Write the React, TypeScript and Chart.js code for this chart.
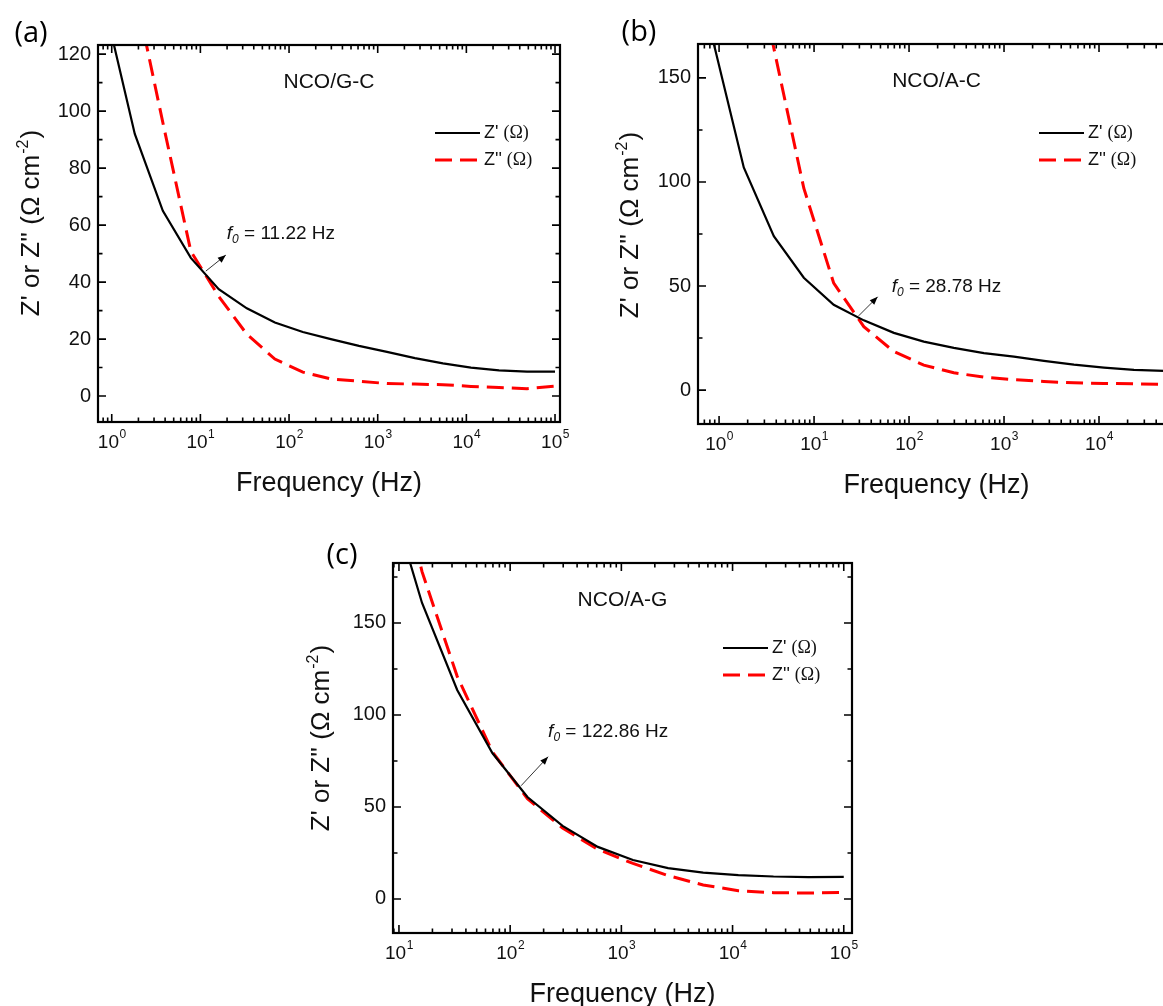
import React, { useEffect, useRef } from "react";
import { Chart, registerables } from "chart.js";

Chart.register(...registerables);

// ---------------- data ----------------
const FREQ_HZ = [0.879, 1.82, 3.77, 7.8, 16.1, 33.4, 69.2, 143, 296, 614, 1271, 2630, 5445, 11272, 23335, 48306, 100000];

const GC_ZREAL = [134, 92, 65, 48.5, 37.5, 30.8, 25.8, 22.5, 20.0, 17.6, 15.5, 13.3, 11.5, 10.0, 9.0, 8.6, 8.6];
const GC_ZIMAG = [240, 142.6, 96, 50.8, 35, 21.7, 13, 8.4, 6.0, 5.2, 4.4, 4.2, 4.0, 3.4, 3.0, 2.6, 3.5];

const AC_ZREAL = [166.5, 107, 74, 54, 41, 33.5, 27.5, 23.3, 20.3, 17.8, 16.1, 14.0, 12.2, 10.8, 9.7, 9.2, 9.0];
const AC_ZIMAG = [300, 235, 164.3, 97, 51.4, 30.5, 18.5, 12, 8.3, 6.2, 5.0, 4.1, 3.5, 3.2, 3.0, 2.8, 3.2];

const AG_ZREAL = [null, null, null, 225, 161, 113.6, 79.3, 55.4, 39.7, 28.3, 21.2, 16.8, 14.3, 13.0, 12.2, 11.9, 12.0];
const AG_ZIMAG = [null, null, null, 260, 178, 121, 80, 54.5, 38.5, 27, 19.3, 12.7, 7.6, 4.5, 3.4, 3.2, 3.6];

const GC_Y_TICKS = [0, 20, 40, 60, 80, 100, 120];
const AC_Y_TICKS = [0, 50, 100, 150];
const AG_Y_TICKS = [0, 50, 100, 150];

const GC_X_TICKS = [1, 10, 100, 1000, 10000, 100000];
const AC_X_TICKS = [1, 10, 100, 1000, 10000];
const AG_X_TICKS = [10, 100, 1000, 10000, 100000];

const PANEL_LETTERS = ["(a)", "(b)", "(c)"];
const SAMPLE_NAMES = ["NCO/G-C", "NCO/A-C", "NCO/A-G"];
const F0_HZ = [11.22, 28.78, 122.86];
const F0_Z = [43.5, 35.2, 61];
const SERIES_NAMES = ["Z'", "Z''"];
const SERIES_UNIT = "(Ω)";
const X_TITLE = "Frequency (Hz)";
const Y_TITLE_MAIN = "Z' or Z'' (Ω cm";
const Y_TITLE_SUP = "-2";
const Y_TITLE_END = ")";

// ---------------- styles / layout ----------------
const SANS = '"Liberation Sans", Arial, sans-serif';
const SERIF = '"Liberation Serif", "Times New Roman", serif';
const LETTER_FONT = '"Open Sans", "Liberation Sans", sans-serif';
const RED = "#ff0000";
const RED_DASH = [17, 8];

type Box = { left: number; top: number; width: number; height: number };
type Area = { left: number; top: number; right: number; bottom: number };

type PanelSpec = {
  idx: number;
  zReal: (number | null)[];
  zImag: (number | null)[];
  xTicks: number[];
  yTicks: number[];
  yMinorStep: number;
  xMin: number;
  xMax: number;
  yMin: number;
  yMax: number;
  canvas: Box;
  area: Area;
  letterPos: { x: number; y: number };
  yTitlePos: { x: number; y: number };
  legendTop: number;
  legendRight: number;
  arrow: { dx: number; dy: number; tx: number; ty: number };
};

const PANELS: PanelSpec[] = [
  {
    idx: 0,
    zReal: GC_ZREAL,
    zImag: GC_ZIMAG,
    xTicks: GC_X_TICKS,
    yTicks: GC_Y_TICKS,
    yMinorStep: 10,
    xMin: 0.733,
    xMax: 113800,
    yMin: -9.1,
    yMax: 123.2,
    canvas: { left: 0, top: 0, width: 580, height: 510 },
    area: { left: 98, top: 45, right: 560, bottom: 422 },
    letterPos: { x: 31, y: 34 },
    yTitlePos: { x: 30, y: 224 },
    legendTop: 88,
    legendRight: 125,
    arrow: { dx: 21, dy: -17, tx: 1, ty: -21 },
  },
  {
    idx: 1,
    zReal: AC_ZREAL,
    zImag: AC_ZIMAG,
    xTicks: AC_X_TICKS,
    yTicks: AC_Y_TICKS,
    yMinorStep: 25,
    xMin: 0.601,
    xMax: 63100,
    yMin: -16.3,
    yMax: 166.3,
    canvas: { left: 580, top: 0, width: 640, height: 510 },
    area: { left: 698, top: 44, right: 1175, bottom: 424 },
    letterPos: { x: 639, y: 33 },
    yTitlePos: { x: 629, y: 226 },
    legendTop: 89,
    legendRight: 136,
    arrow: { dx: 20, dy: -20, tx: 14, ty: -10 },
  },
  {
    idx: 2,
    zReal: AG_ZREAL,
    zImag: AG_ZIMAG,
    xTicks: AG_X_TICKS,
    yTicks: AG_Y_TICKS,
    yMinorStep: 25,
    xMin: 8.84,
    xMax: 118600,
    yMin: -18.5,
    yMax: 182.6,
    canvas: { left: 290, top: 520, width: 600, height: 486 },
    area: { left: 393, top: 563, right: 852, bottom: 933 },
    letterPos: { x: 342, y: 556 },
    yTitlePos: { x: 320, y: 739 },
    legendTop: 85,
    legendRight: 129,
    arrow: { dx: 28, dy: -30, tx: 0, ty: -25 },
  },
];

function toPoints(vals: (number | null)[]) {
  return FREQ_HZ.map((f, i) => ({ x: f, y: vals[i] })).filter((p) => p.y !== null) as { x: number; y: number }[];
}

function makeDecorPlugin(spec: PanelSpec) {
  return {
    id: "decor" + spec.idx,
    afterDraw(chart: any) {
      const ctx: CanvasRenderingContext2D = chart.ctx;
      const { left, right, top, bottom } = chart.chartArea;
      const xs = chart.scales.x;
      const ys = chart.scales.y;
      const ox = spec.canvas.left;
      const oy = spec.canvas.top;
      ctx.save();

      // frame
      ctx.strokeStyle = "#000";
      ctx.lineWidth = 2.2;
      ctx.strokeRect(left, top, right - left, bottom - top);

      // ticks
      const majorLen = 8;
      const minorLen = 4.5;
      ctx.lineWidth = 1.6;
      ctx.beginPath();
      for (const v of spec.yTicks) {
        const py = ys.getPixelForValue(v);
        ctx.moveTo(left, py);
        ctx.lineTo(left + majorLen, py);
        ctx.moveTo(right, py);
        ctx.lineTo(right - majorLen, py);
      }
      const s = spec.yMinorStep;
      for (let k = Math.ceil(spec.yMin / s); k * s <= spec.yMax; k++) {
        const v = k * s;
        if (spec.yTicks.includes(v)) continue;
        const py = ys.getPixelForValue(v);
        ctx.moveTo(left, py);
        ctx.lineTo(left + minorLen, py);
        ctx.moveTo(right, py);
        ctx.lineTo(right - minorLen, py);
      }
      for (const v of spec.xTicks) {
        const px = xs.getPixelForValue(v);
        ctx.moveTo(px, bottom);
        ctx.lineTo(px, bottom - majorLen);
        ctx.moveTo(px, top);
        ctx.lineTo(px, top + majorLen);
      }
      const d0 = Math.floor(Math.log10(spec.xMin));
      const d1 = Math.ceil(Math.log10(spec.xMax));
      for (let d = d0; d <= d1; d++) {
        for (let m = 2; m <= 9; m++) {
          const v = m * Math.pow(10, d);
          if (v < spec.xMin || v > spec.xMax) continue;
          const px = xs.getPixelForValue(v);
          ctx.moveTo(px, bottom);
          ctx.lineTo(px, bottom - minorLen);
          ctx.moveTo(px, top);
          ctx.lineTo(px, top + minorLen);
        }
      }
      ctx.stroke();

      ctx.fillStyle = "#111";
      // y tick labels
      ctx.font = `20px ${SANS}`;
      ctx.textAlign = "right";
      ctx.textBaseline = "middle";
      for (const v of spec.yTicks) {
        ctx.fillText(String(v), left - 7, ys.getPixelForValue(v));
      }
      // x tick labels 10^n
      ctx.textAlign = "left";
      for (const v of spec.xTicks) {
        const px = xs.getPixelForValue(v);
        const e = String(Math.round(Math.log10(v)));
        ctx.font = `19px ${SANS}`;
        const wb = ctx.measureText("10").width;
        ctx.font = `12px ${SANS}`;
        const we = ctx.measureText(e).width;
        const x0 = px - (wb + we) / 2;
        const y0 = bottom + 21;
        ctx.font = `19px ${SANS}`;
        ctx.fillText("10", x0, y0);
        ctx.font = `12px ${SANS}`;
        ctx.fillText(e, x0 + wb + 0.5, y0 - 8);
      }

      // x title
      ctx.font = `27px ${SANS}`;
      ctx.textAlign = "center";
      ctx.textBaseline = "middle";
      ctx.fillText(X_TITLE, (left + right) / 2, bottom + 62);

      // y title (rotated)
      ctx.save();
      ctx.translate(spec.yTitlePos.x - ox, spec.yTitlePos.y - oy);
      ctx.rotate(-Math.PI / 2);
      ctx.textAlign = "left";
      ctx.textBaseline = "alphabetic";
      ctx.font = `26px ${SANS}`;
      const w1 = ctx.measureText(Y_TITLE_MAIN).width;
      const w3 = ctx.measureText(Y_TITLE_END).width;
      ctx.font = `16px ${SANS}`;
      const w2 = ctx.measureText(Y_TITLE_SUP).width;
      let tx = -(w1 + w2 + w3) / 2;
      const base = 9;
      ctx.font = `26px ${SANS}`;
      ctx.fillText(Y_TITLE_MAIN, tx, base);
      tx += w1;
      ctx.font = `16px ${SANS}`;
      ctx.fillText(Y_TITLE_SUP, tx + 1, base - 11);
      tx += w2 + 2;
      ctx.font = `26px ${SANS}`;
      ctx.fillText(Y_TITLE_END, tx, base);
      ctx.restore();

      // panel letter
      ctx.font = `29px ${LETTER_FONT}`;
      ctx.textAlign = "center";
      ctx.textBaseline = "middle";
      ctx.fillStyle = "#000";
      ctx.fillText(PANEL_LETTERS[spec.idx], spec.letterPos.x - ox, spec.letterPos.y - oy);

      // sample name
      ctx.fillStyle = "#111";
      ctx.font = `21px ${SANS}`;
      ctx.fillText(SAMPLE_NAMES[spec.idx], (left + right) / 2, top + 37);

      // legend
      const lx0 = right - spec.legendRight;
      const lx1 = lx0 + 45;
      const ly = [top + spec.legendTop, top + spec.legendTop + 27];
      ctx.lineCap = "butt";
      ctx.strokeStyle = "#000";
      ctx.lineWidth = 2.2;
      ctx.setLineDash([]);
      ctx.beginPath();
      ctx.moveTo(lx0, ly[0]);
      ctx.lineTo(lx1, ly[0]);
      ctx.stroke();
      ctx.strokeStyle = RED;
      ctx.lineWidth = 3;
      ctx.setLineDash(RED_DASH);
      ctx.beginPath();
      ctx.moveTo(lx0, ly[1]);
      ctx.lineTo(lx1, ly[1]);
      ctx.stroke();
      ctx.setLineDash([]);
      ctx.fillStyle = "#111";
      ctx.textAlign = "left";
      ctx.textBaseline = "middle";
      for (let i = 0; i < 2; i++) {
        ctx.font = `18px ${SANS}`;
        const name = SERIES_NAMES[i] + " ";
        ctx.fillText(name, lx1 + 4, ly[i]);
        const wn = ctx.measureText(name).width;
        ctx.font = `18px ${SERIF}`;
        ctx.fillText(SERIES_UNIT, lx1 + 4 + wn, ly[i]);
      }

      // f0 annotation arrow
      const cx = xs.getPixelForValue(F0_HZ[spec.idx]);
      const cy = ys.getPixelForValue(F0_Z[spec.idx]);
      const ax = cx + spec.arrow.dx;
      const ay = cy + spec.arrow.dy;
      ctx.strokeStyle = "#333";
      ctx.lineWidth = 1;
      ctx.beginPath();
      ctx.moveTo(cx + 1, cy - 1);
      ctx.lineTo(ax, ay);
      ctx.stroke();
      const ang = Math.atan2(ay - cy, ax - cx);
      const hl = 8;
      const hw = 3.2;
      ctx.fillStyle = "#000";
      ctx.beginPath();
      ctx.moveTo(ax, ay);
      ctx.lineTo(ax - hl * Math.cos(ang) + hw * Math.sin(ang), ay - hl * Math.sin(ang) - hw * Math.cos(ang));
      ctx.lineTo(ax - hl * Math.cos(ang) - hw * Math.sin(ang), ay - hl * Math.sin(ang) + hw * Math.cos(ang));
      ctx.closePath();
      ctx.fill();

      // f0 text
      let fx = ax + spec.arrow.tx;
      const fy = ay + spec.arrow.ty;
      ctx.fillStyle = "#111";
      ctx.textAlign = "left";
      ctx.textBaseline = "middle";
      ctx.font = `italic 19px ${SANS}`;
      ctx.fillText("f", fx, fy);
      fx += ctx.measureText("f").width;
      ctx.font = `italic 12px ${SANS}`;
      ctx.fillText("0", fx, fy + 6);
      fx += ctx.measureText("0").width;
      ctx.font = `19px ${SANS}`;
      ctx.fillText(` = ${F0_HZ[spec.idx].toFixed(2)} Hz`, fx, fy);

      ctx.restore();
    },
  };
}

function Panel({ spec }: { spec: PanelSpec }) {
  const ref = useRef<HTMLCanvasElement>(null);
  useEffect(() => {
    const canvas = ref.current;
    if (!canvas) return;
    const c = spec.canvas;
    const a = spec.area;
    const chart = new Chart(canvas, {
      type: "line",
      data: {
        datasets: [
          {
            label: SERIES_NAMES[0],
            data: toPoints(spec.zReal),
            borderColor: "#000",
            borderWidth: 2.2,
            pointRadius: 0,
            tension: 0,
            fill: false,
          },
          {
            label: SERIES_NAMES[1],
            data: toPoints(spec.zImag),
            borderColor: RED,
            borderWidth: 3,
            borderDash: RED_DASH,
            pointRadius: 0,
            tension: 0,
            fill: false,
          },
        ],
      },
      options: {
        responsive: false,
        animation: false,
        devicePixelRatio: 1,
        events: [],
        layout: {
          padding: {
            left: a.left - c.left,
            top: a.top - c.top,
            right: c.left + c.width - a.right,
            bottom: c.top + c.height - a.bottom,
          },
        },
        plugins: { legend: { display: false }, tooltip: { enabled: false } },
        scales: {
          x: { type: "logarithmic", min: spec.xMin, max: spec.xMax, display: false },
          y: { type: "linear", min: spec.yMin, max: spec.yMax, display: false },
        },
      },
      plugins: [makeDecorPlugin(spec)],
    } as any);
    return () => chart.destroy();
  }, [spec]);
  const c = spec.canvas;
  return (
    <canvas
      ref={ref}
      width={c.width}
      height={c.height}
      style={{ position: "absolute", left: c.left, top: c.top, width: c.width, height: c.height }}
    />
  );
}

export default function App() {
  return (
    <div
      style={{
        position: "absolute",
        left: 0,
        top: 0,
        width: 1163,
        height: 1006,
        overflow: "hidden",
        background: "#fff",
      }}
    >
      {PANELS.map((p) => (
        <Panel key={p.idx} spec={p} />
      ))}
    </div>
  );
}
